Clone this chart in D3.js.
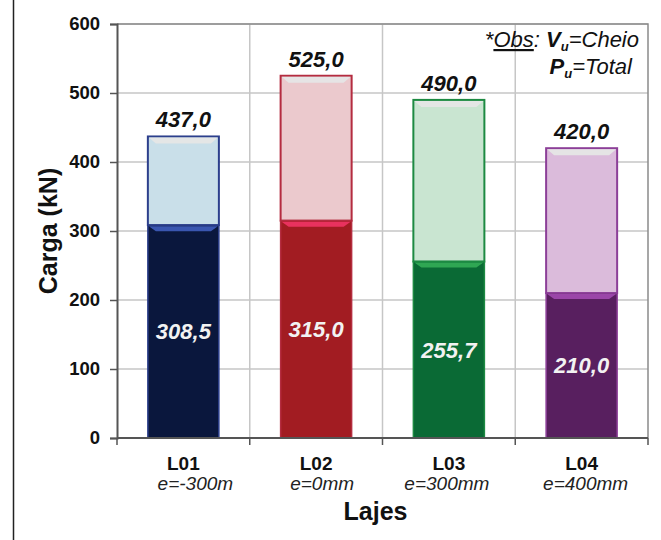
<!DOCTYPE html>
<html>
<head>
<meta charset="utf-8">
<script src="https://cdn.jsdelivr.net/npm/d3@7"></script>
<style>
  html, body { margin: 0; padding: 0; background: #fff; }
  svg { display: block; font-family: Arial, "Liberation Sans", sans-serif; }
</style>
</head>
<body>
<svg id="chart" width="661" height="540"></svg>
<script>
// Slabs tested
const categories = ["L01", "L02", "L03", "L04"];
const eccentricities = ["e=-300m", "e=0mm", "e=300mm", "e=400mm"];
// Vu (solid part) and Pu (total) loads, kN
const vuValues = [308.5, 315.0, 255.7, 210.0];
const puValues = [437.0, 525.0, 490.0, 420.0];
const yTicks = [0, 100, 200, 300, 400, 500, 600];

// Per-slab palette: dark fill, light fill, outline, bevel highlight
const darkFill  = ["#0a173d", "#a21c22", "#0a6a35", "#581f5f"];
const lightFill = ["#c9dfe9", "#ebc9cd", "#c9e5d1", "#dbbbdb"];
const strokeCol = ["#2c3f8c", "#b42c40", "#1d8a42", "#8c3f98"];
const bevelCol  = ["#3a56b0", "#e8325e", "#2fa653", "#9a46a8"];
// horizontal nudge of the second label line under each slab
const subNudge = [12, 6, -2, 4];

const fmt = v => d3.format(".1f")(v).replace(".", ",");

const svg = d3.select("#chart");
const W = 661, H = 540;
const plot = { left: 117, right: 648, top: 24, bottom: 438 };

const x = d3.scaleBand()
  .domain(categories)
  .range([plot.left, plot.right])
  .paddingInner(0.465)
  .paddingOuter(0.2325);
const y = d3.scaleLinear().domain([0, 600]).range([plot.bottom, plot.top]);

// figure frame edge
svg.append("line")
  .attr("x1", 13.5).attr("x2", 13.5).attr("y1", 0).attr("y2", H)
  .attr("stroke", "#222").attr("stroke-width", 1.5);

// grid
const grid = svg.append("g").attr("stroke", "#c6c6c6").attr("stroke-width", 1.5);
yTicks.filter(t => t > 0).forEach(t => {
  grid.append("line")
    .attr("x1", plot.left).attr("x2", plot.right)
    .attr("y1", y(t)).attr("y2", y(t));
});
const step = x.step();
const bounds = d3.range(1, categories.length).map(i => plot.left + i * step);
bounds.forEach(b => {
  grid.append("line")
    .attr("x1", b).attr("x2", b)
    .attr("y1", plot.top).attr("y2", plot.bottom);
});

// plot frame (top and right)
svg.append("path")
  .attr("d", `M${plot.left},${plot.top}H${plot.right}V${plot.bottom}`)
  .attr("fill", "none").attr("stroke", "#8a8a8a").attr("stroke-width", 1.5);

// bars
const bars = svg.append("g");
categories.forEach((c, i) => {
  const x0 = x(c), bw = x.bandwidth();
  const yTot = y(puValues[i]), yVu = y(vuValues[i]), y0 = y(0);
  const g = bars.append("g");

  // light (total) segment
  g.append("rect")
    .attr("x", x0).attr("y", yTot).attr("width", bw).attr("height", yVu - yTot)
    .attr("fill", lightFill[i]).attr("stroke", strokeCol[i]).attr("stroke-width", 2);
  // top bevel of light segment
  g.append("path")
    .attr("d", `M${x0 + 1},${yTot + 1}H${x0 + bw - 1}L${x0 + bw - 8},${yTot + 7}H${x0 + 8}Z`)
    .attr("fill", "#e6e6e6").attr("opacity", 0.95);

  // dark (solid) segment
  g.append("rect")
    .attr("x", x0).attr("y", yVu).attr("width", bw).attr("height", y0 - yVu)
    .attr("fill", darkFill[i]).attr("stroke", strokeCol[i]).attr("stroke-width", 1.5);
  // top bevel of dark segment
  g.append("path")
    .attr("d", `M${x0 + 1},${yVu + 1}H${x0 + bw - 1}L${x0 + bw - 8},${yVu + 6}H${x0 + 8}Z`)
    .attr("fill", bevelCol[i]);

  // total label
  g.append("text")
    .attr("x", x0 + bw / 2).attr("y", yTot - 9)
    .attr("text-anchor", "middle")
    .style("font-size", "22px").attr("font-weight", "bold").attr("font-style", "italic")
    .attr("fill", "#111")
    .text(fmt(puValues[i]));
  // solid label, centred in the dark segment
  g.append("text")
    .attr("x", x0 + bw / 2).attr("y", (yVu + y0) / 2)
    .attr("dy", "0.36em")
    .attr("text-anchor", "middle")
    .style("font-size", "22px").attr("font-weight", "bold").attr("font-style", "italic")
    .attr("fill", "#f2f2f2")
    .text(fmt(vuValues[i]));
});

// y axis
const yAxis = svg.append("g")
  .attr("transform", `translate(${plot.left},0)`)
  .call(d3.axisLeft(y).tickValues(yTicks).tickSize(7).tickPadding(10).tickFormat(d3.format("d")));
yAxis.select(".domain").attr("stroke", "#555").attr("stroke-width", 2);
yAxis.selectAll(".tick line").attr("stroke", "#555").attr("stroke-width", 1.5);
yAxis.selectAll(".tick text")
  .style("font-size", "18.5px").attr("font-weight", "bold").attr("fill", "#111")
  .attr("font-family", "Arial, 'Liberation Sans', sans-serif");

// x axis line and separator ticks
const xAxis = svg.append("g");
xAxis.append("line")
  .attr("x1", plot.left).attr("x2", plot.right)
  .attr("y1", plot.bottom).attr("y2", plot.bottom)
  .attr("stroke", "#555").attr("stroke-width", 2);
[plot.left, ...bounds, plot.right].forEach(b => {
  xAxis.append("line")
    .attr("x1", b).attr("x2", b)
    .attr("y1", plot.bottom).attr("y2", plot.bottom + 7)
    .attr("stroke", "#555").attr("stroke-width", 1.5);
});

// category labels
categories.forEach((c, i) => {
  const cx = x(c) + x.bandwidth() / 2;
  svg.append("text")
    .attr("x", cx).attr("y", 470)
    .attr("text-anchor", "middle")
    .style("font-size", "19px").attr("font-weight", "bold").attr("fill", "#111")
    .text(c);
  svg.append("text")
    .attr("x", cx + subNudge[i]).attr("y", 490)
    .attr("text-anchor", "middle")
    .style("font-size", "19px").attr("font-style", "italic").attr("fill", "#222")
    .text(eccentricities[i]);
});

// axis titles
svg.append("text")
  .attr("x", (plot.left + plot.right) / 2 - 7).attr("y", 520)
  .attr("text-anchor", "middle")
  .style("font-size", "25px").attr("font-weight", "bold").attr("fill", "#111")
  .text("Lajes");
svg.append("text")
  .attr("transform", `translate(57,${(plot.top + plot.bottom) / 2}) rotate(-90)`)
  .attr("text-anchor", "middle")
  .style("font-size", "25px").attr("font-weight", "bold").attr("fill", "#111")
  .text("Carga (kN)");

// note on segment meaning
const note = svg.append("g").style("font-size", "22px").attr("font-style", "italic").attr("fill", "#111");
const l1 = note.append("text").attr("x", 639).attr("y", 47).attr("text-anchor", "end");
l1.append("tspan").text("*");
l1.append("tspan").attr("text-decoration", "underline").text("Obs");
l1.append("tspan").text(": ");
l1.append("tspan").attr("font-weight", "bold").text("V");
l1.append("tspan").attr("font-weight", "bold").style("font-size", "13px").attr("dy", 4).text("u");
l1.append("tspan").attr("dy", -4).text("=Cheio");
const l2 = note.append("text").attr("x", 632).attr("y", 74).attr("text-anchor", "end");
l2.append("tspan").attr("font-weight", "bold").text("P");
l2.append("tspan").attr("font-weight", "bold").style("font-size", "13px").attr("dy", 4).text("u");
l2.append("tspan").attr("dy", -4).text("=Total");
</script>
</body>
</html>
